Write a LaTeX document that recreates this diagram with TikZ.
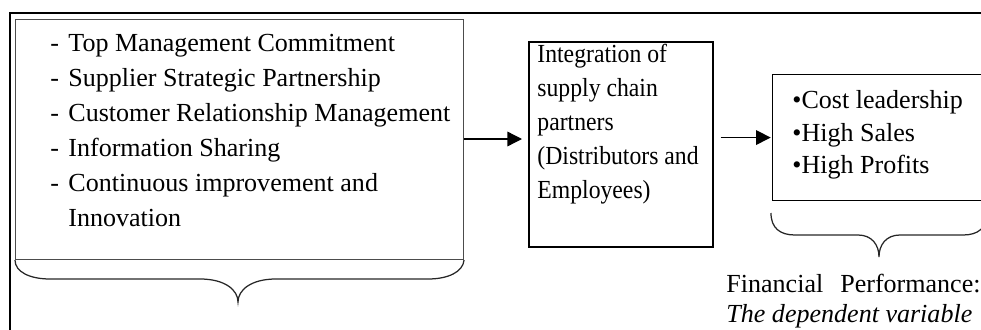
\documentclass[tikz,border=0pt]{standalone}
\usepackage{fontspec}
\setmainfont{Liberation Serif}
\newfontfamily\condfont[FakeStretch=0.91]{Liberation Serif}
\usetikzlibrary{arrows.meta}
\begin{document}
\begin{tikzpicture}[x=0.48pt,y=-0.48pt,
  txt/.style={anchor=base west,inner sep=0pt,font=\fontsize{12.5}{15}\selectfont},
  ctxt/.style={txt,font=\fontsize{12.5}{15}\condfont},
  box/.style={draw,anchor=north west,inner sep=0pt},
  arr/.style={-{Triangle[length=7pt,width=7pt]},line width=0.65pt},
  bracestyle/.style={line width=0.6pt,draw=black!85}]
\useasboundingbox (0,0) rectangle (981,329);
\clip (0,0) rectangle (981,329);
% outer frame
\draw[line width=1pt] (995,12.8) -- (10,12.8) -- (10,340);
% boxes
\node[box,draw=black!70,line width=0.5pt,minimum width=215.04pt,minimum height=115.2pt] (L) at (15,19) {};
\node[box,line width=0.8pt,minimum width=88.3pt,minimum height=98.4pt] (M) at (528,41) {};
\node[box,line width=0.5pt,minimum width=124.8pt,minimum height=60.5pt] (R) at (771.7,74) {};
% left list
\node[txt] (d1) at (50,51.7) {-};
\node[txt] (l1) at (68,51.7) {Top Management Commitment};
\node[txt] (d2) at (50,86.7) {-};
\node[txt] (l2) at (68,86.7) {Supplier Strategic Partnership};
\node[txt] (d3) at (50,121.7) {-};
\node[txt] (l3) at (68,121.7) {Customer Relationship Management};
\node[txt] (d4) at (50,156.7) {-};
\node[txt] (l4) at (68,156.7) {Information Sharing};
\node[txt] (d5) at (50,191.7) {-};
\node[txt] (l5) at (68,191.7) {Continuous improvement and};
\node[txt] (l6) at (68,226.7) {Innovation};
% middle text
\node[ctxt] (m1) at (537,62.7) {Integration of};
\node[ctxt] (m2) at (537,96.7) {supply chain};
\node[ctxt] (m3) at (537,130.5) {partners};
\node[ctxt] (m4) at (537,164) {(Distributors and};
\node[ctxt] (m5) at (537,198) {Employees)};
% right text
\node[txt] (r1) at (792,108) {•Cost leadership};
\node[txt] (r2) at (792,141) {•High Sales};
\node[txt] (r3) at (792,173.5) {•High Profits};
% label
\node[txt] (f1) at (726,292.7) {Financial};
\node[txt,anchor=base east] (f2) at (981,292.7) {Performance:};
\node[txt] (f3) at (726,322) {\itshape The dependent variable};
% arrows
\draw[arr,shorten >=2.88pt] (L.east |- 0,139) -- (M.west |- 0,139);
\draw[arr,shorten <=3.36pt,shorten >=0.48pt] (M.east |- R.west) -- (R.west);
% left brace
\draw[bracestyle] (L.south west) .. controls (15,272) and (30,279) .. (50,279) -- (200,279)
  .. controls (225,279) and (238,290) .. (238,302)
  .. controls (238,290) and (251,279) .. (276,279) -- (428,279)
  .. controls (448,279) and (463,272) .. (L.south east);
% right brace
\draw[bracestyle] (771,213) .. controls (771,228) and (780,235) .. (795,235) -- (858,235)
  .. controls (872,235) and (879,245) .. (879,257)
  .. controls (879,245) and (886,235) .. (900,235) -- (963,235)
  .. controls (978,235) and (987,228) .. (987,213);
\end{tikzpicture}
\end{document}
